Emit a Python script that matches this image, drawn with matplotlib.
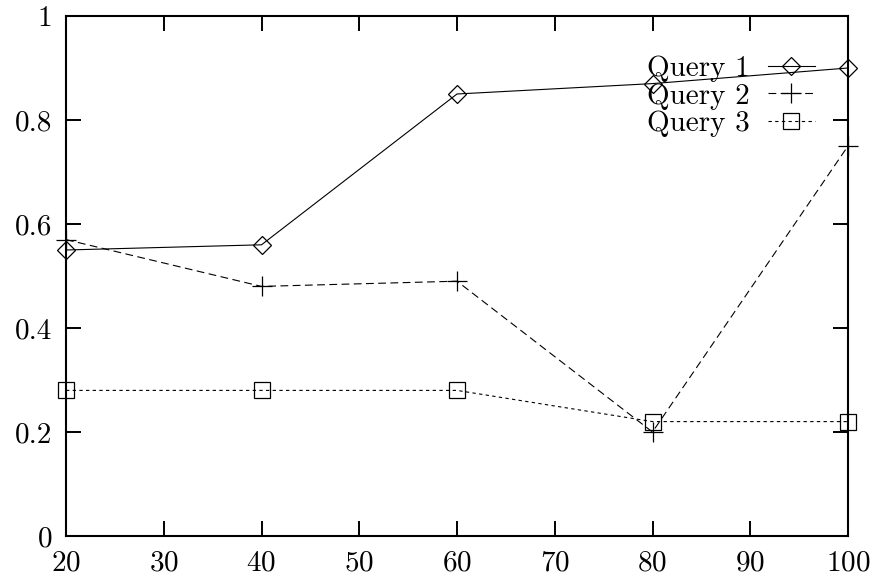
import matplotlib
matplotlib.use("Agg")
from matplotlib import pyplot as plt

plt.rcParams['font.family'] = ['cmr10', 'DejaVu Serif']
plt.rcParams['axes.formatter.use_mathtext'] = True

x = [20, 40, 60, 80, 100]
query1 = [0.55, 0.56, 0.85, 0.87, 0.90]
query2 = [0.57, 0.48, 0.49, 0.20, 0.75]
query3 = [0.28, 0.28, 0.28, 0.22, 0.22]

fig = plt.figure(figsize=(8.72, 5.78), dpi=100)
ax = fig.add_axes([66/872, 1 - 536/578, (848-66)/872, (536-16)/578])

ax.plot(x, query1, color='k', lw=0.8, marker='D', markersize=9, markerfacecolor='none',
        markeredgecolor='k', markeredgewidth=0.9, label="Query 1", clip_on=False)
ax.plot(x, query2, color='k', lw=0.8, dashes=(7, 4), marker='+', markersize=15,
        markeredgewidth=0.9, label="Query 2", clip_on=False)
ax.plot(x, query3, color='k', lw=0.8, dashes=(3, 3), marker='s', markersize=12,
        markerfacecolor='none', markeredgecolor='k', markeredgewidth=0.9, label="Query 3",
        clip_on=False)

ax.set_xlim(20, 100)
ax.set_ylim(0, 1)
ax.set_xticks(range(20, 101, 10))
ax.set_yticks([0, 0.2, 0.4, 0.6, 0.8, 1])
ax.set_yticklabels(["0", "0.2", "0.4", "0.6", "0.8", "1"])
ax.tick_params(direction='in', length=10.5, width=1.4, top=True, right=True,
               labelsize=21, pad=10)
for s in ax.spines.values():
    s.set_linewidth(1.5)

leg = ax.legend(loc='upper right', bbox_to_anchor=(1.0 - 7/782, 0.974), frameon=False,
                markerfirst=False, handlelength=1.6, handletextpad=0.62,
                labelspacing=0.03, fontsize=21, numpoints=1)

plt.savefig("out.png", dpi=100)
